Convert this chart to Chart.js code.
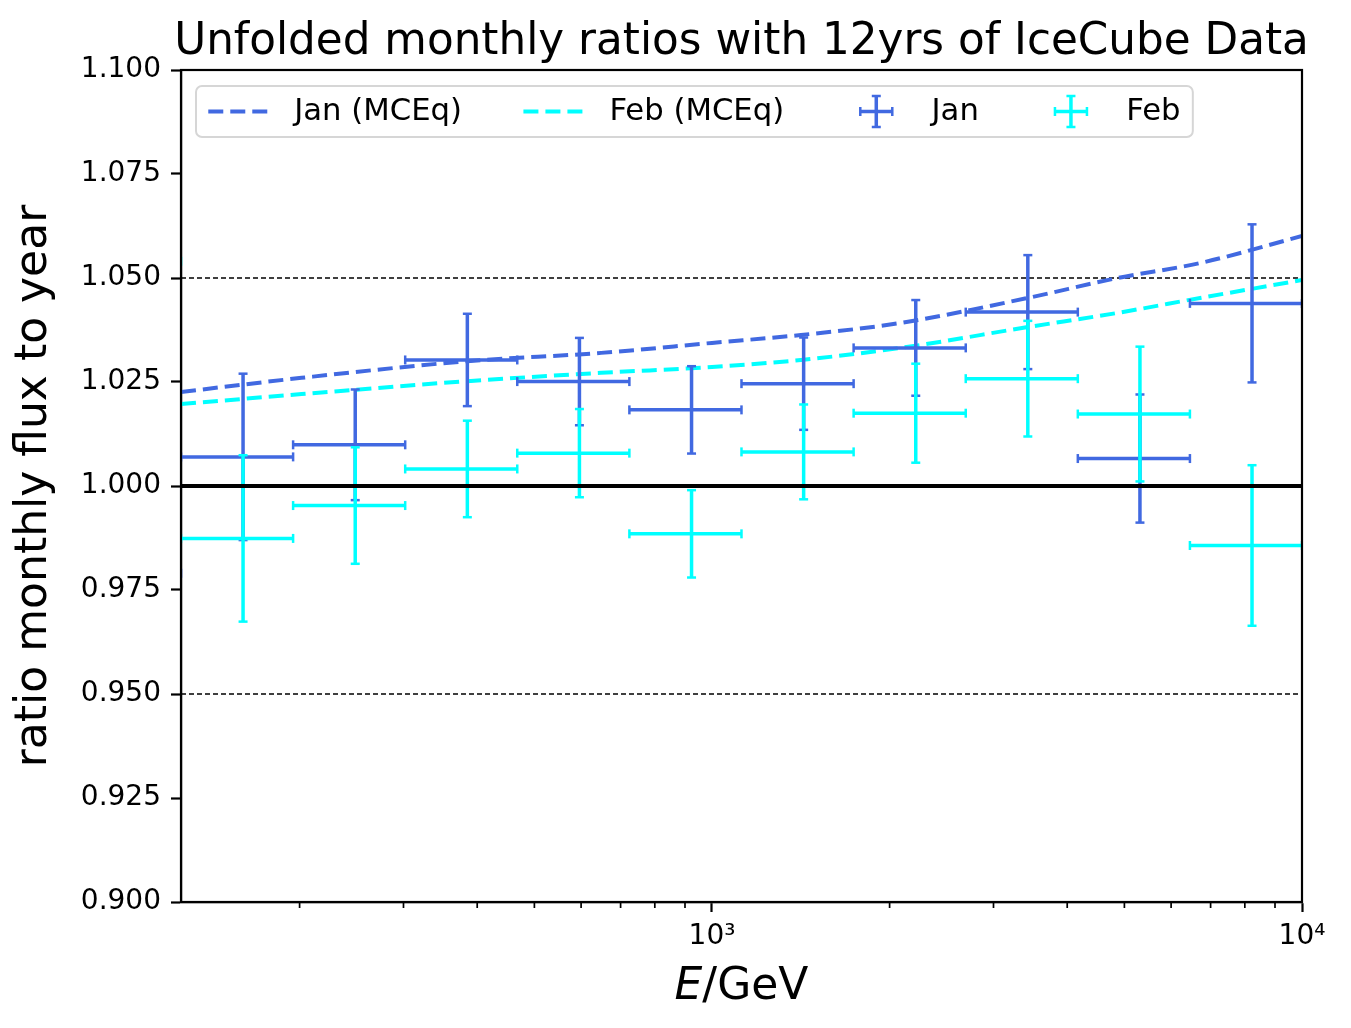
<!DOCTYPE html>
<html>
<head>
<meta charset="utf-8">
<script src="https://cdn.jsdelivr.net/npm/chart.js@4.4.1/dist/chart.umd.min.js"></script>
<style>
  html, body { margin: 0; padding: 0; background: #fff; }
</style>
</head>
<body>
<canvas id="chart" width="1351" height="1028"></canvas>
<script>
// energy bins in GeV (edges + centre of each bin)
const binLo = [81.3, 125.9, 195.0, 302.0, 467.7, 724.4, 1122, 1738, 2692, 4169, 6457];
const binHi = [125.9, 195.0, 302.0, 467.7, 724.4, 1122, 1738, 2692, 4169, 6457, 10000];
const binMid = [103.6, 160.4, 248.5, 384.9, 596.1, 923.3, 1430, 2215, 3430, 5313, 8228];

// unfolded ratios monthly / yearly
const janRatio = [0.979, 1.0070, 1.0099, 1.0303, 1.0251, 1.0183, 1.0246, 1.0332, 1.0418, 1.0066, 1.0439];
const janErr   = [0.020, 0.0200, 0.0133, 0.0111, 0.0105, 0.0105, 0.0111, 0.0115, 0.0137, 0.0154, 0.0190];
const febRatio = [1.054, 0.9874, 0.9953, 1.0041, 1.0079, 0.9885, 1.0082, 1.0175, 1.0258, 1.0173, 0.9857];
const febErr   = [0.020, 0.0200, 0.0140, 0.0116, 0.0106, 0.0105, 0.0114, 0.0119, 0.0139, 0.0162, 0.0193];

// MCEq predictions
const mceqE   = [125.9, 201.6, 385, 649, 1000, 1415, 2089, 3430, 4864, 6720, 10000];
const janMCEq = [1.0226, 1.0260, 1.0300, 1.0320, 1.0344, 1.0363, 1.0392, 1.0452, 1.0500, 1.0536, 1.0601];
const febMCEq = [1.0197, 1.0221, 1.0252, 1.0272, 1.0286, 1.0303, 1.0332, 1.0382, 1.0416, 1.0452, 1.0495];

// axes
const xMin = 125.9, xMax = 10000;
const xMajor = [1000, 10000];
const xMajorLabels = ['10\u00B3', '10\u2074'];
const xMinor = [200, 300, 400, 500, 600, 700, 800, 900, 2000, 3000, 4000, 5000, 6000, 7000, 8000, 9000];
const refLines = [0.95, 1.05];

const titleText = 'Unfolded monthly ratios with 12yrs of IceCube Data';

const JAN = '#4169e1';
const FEB = '#00ffff';

function hBars(vals) {
  const pts = [];
  vals.forEach((v, i) => {
    pts.push({x: binLo[i], y: v}, {x: binHi[i], y: v}, {x: binHi[i], y: null});
  });
  return pts;
}

function vBars(vals, errs) {
  const pts = [];
  vals.forEach((v, i) => {
    pts.push({x: binMid[i], y: v - errs[i]}, {x: binMid[i], y: v + errs[i]}, {x: binMid[i], y: null});
  });
  return pts;
}

function barSet(data, color, rot, order) {
  return {
    data: data, showLine: true, spanGaps: false,
    borderColor: color, borderWidth: 3.5,
    pointStyle: 'line', pointRadius: 4.5, pointHoverRadius: 4.5,
    pointRotation: rot, pointBorderColor: color, pointBorderWidth: 2.5,
    clip: 0, order: order
  };
}

const datasets = [];
refLines.forEach(v => {
  datasets.push({
    data: [{x: xMin, y: v}, {x: xMax, y: v}], showLine: true,
    borderColor: '#000', borderWidth: 1.3, borderDash: [5, 3],
    pointRadius: 0, order: 9
  });
});
datasets.push({
  data: mceqE.map((e, i) => ({x: e, y: janMCEq[i]})), showLine: true,
  borderColor: JAN, borderWidth: 4, borderDash: [15, 7], cubicInterpolationMode: 'monotone',
  pointRadius: 0, order: 8
});
datasets.push({
  data: mceqE.map((e, i) => ({x: e, y: febMCEq[i]})), showLine: true,
  borderColor: FEB, borderWidth: 4, borderDash: [15, 7], cubicInterpolationMode: 'monotone',
  pointRadius: 0, order: 7
});
datasets.push(barSet(hBars(janRatio), JAN, 90, 6));
datasets.push(barSet(vBars(janRatio, janErr), JAN, 0, 5));
datasets.push(barSet(hBars(febRatio), FEB, 90, 4));
datasets.push(barSet(vBars(febRatio, febErr), FEB, 0, 3));
datasets.push({
  data: [{x: xMin, y: 1}, {x: xMax, y: 1}], showLine: true,
  borderColor: '#000', borderWidth: 4, pointRadius: 0, order: 1
});

const legendItems = [
  {label: 'Jan (MCEq)', kind: 'dash', color: JAN},
  {label: 'Feb (MCEq)', kind: 'dash', color: FEB},
  {label: 'Jan', kind: 'err', color: JAN},
  {label: 'Feb', kind: 'err', color: FEB}
];

const extras = {
  id: 'extras',
  afterDraw(chart) {
    const {ctx, chartArea: ca, scales: {x}} = chart;
    const midX = (ca.left + ca.right) / 2;
    ctx.save();
    ctx.strokeStyle = '#000';
    // minor x ticks
    ctx.lineWidth = 1.7;
    xMinor.forEach(v => {
      const px = x.getPixelForValue(v);
      ctx.beginPath(); ctx.moveTo(px, ca.bottom); ctx.lineTo(px, ca.bottom + 6); ctx.stroke();
    });
    // frame
    ctx.lineWidth = 2.2;
    ctx.strokeRect(ca.left, ca.top, ca.right - ca.left, ca.bottom - ca.top);

    // title, centred over the axes
    ctx.fillStyle = '#000';
    ctx.textBaseline = 'alphabetic';
    ctx.textAlign = 'center';
    ctx.font = '43.7px "DejaVu Sans"';
    ctx.fillText(titleText, midX, ca.top - 16);

    // x label, italic E
    ctx.font = 'italic 44px "DejaVu Sans"';
    const wE = ctx.measureText('E').width;
    ctx.font = '44px "DejaVu Sans"';
    const wR = ctx.measureText('/GeV').width;
    const x0 = midX - (wE + wR) / 2;
    ctx.textAlign = 'left';
    ctx.font = 'italic 44px "DejaVu Sans"';
    ctx.fillText('E', x0, 999);
    ctx.font = '44px "DejaVu Sans"';
    ctx.fillText('/GeV', x0 + wE, 999);

    // legend
    const fs = 30.7;
    ctx.font = fs + 'px "DejaVu Sans"';
    const widths = legendItems.map(it => ctx.measureText(it.label).width);
    const pad = 0.4 * fs, hl = 2 * fs, htp = 0.8 * fs, cs = 2 * fs;
    const lx = ca.left + 15, ly = ca.top + 16;
    const lw = pad * 2 + legendItems.length * (hl + htp) + widths.reduce((a, b) => a + b, 0) + (legendItems.length - 1) * cs;
    const lh = 51;
    ctx.beginPath();
    ctx.roundRect(lx, ly, lw, lh, 6);
    ctx.fillStyle = 'rgba(255,255,255,0.8)';
    ctx.fill();
    ctx.strokeStyle = '#d6d6d6';
    ctx.lineWidth = 2;
    ctx.stroke();
    let cx = lx + pad;
    const cy = ly + lh / 2;
    legendItems.forEach((it, i) => {
      ctx.strokeStyle = it.color;
      if (it.kind === 'dash') {
        ctx.lineWidth = 4;
        ctx.setLineDash([15, 7]);
        ctx.beginPath(); ctx.moveTo(cx, cy); ctx.lineTo(cx + hl, cy); ctx.stroke();
        ctx.setLineDash([]);
      } else {
        const mx = cx + hl / 2;
        ctx.lineWidth = 3.5;
        ctx.beginPath();
        ctx.moveTo(mx - 16, cy); ctx.lineTo(mx + 16, cy);
        ctx.moveTo(mx, cy - 15.5); ctx.lineTo(mx, cy + 15.5);
        ctx.stroke();
        ctx.lineWidth = 2.5;
        ctx.beginPath();
        ctx.moveTo(mx - 16, cy - 4.5); ctx.lineTo(mx - 16, cy + 4.5);
        ctx.moveTo(mx + 16, cy - 4.5); ctx.lineTo(mx + 16, cy + 4.5);
        ctx.moveTo(mx - 4.5, cy - 15.5); ctx.lineTo(mx + 4.5, cy - 15.5);
        ctx.moveTo(mx - 4.5, cy + 15.5); ctx.lineTo(mx + 4.5, cy + 15.5);
        ctx.stroke();
      }
      ctx.fillStyle = '#000';
      ctx.textBaseline = 'middle';
      ctx.fillText(it.label, cx + hl + htp, cy + 1);
      cx += hl + htp + widths[i] + cs;
    });
    ctx.restore();
  }
};

Chart.defaults.font.family = '"DejaVu Sans"';
Chart.defaults.color = '#000';

new Chart(document.getElementById('chart').getContext('2d'), {
  type: 'scatter',
  data: {datasets: datasets},
  options: {
    responsive: false,
    animation: false,
    devicePixelRatio: 1,
    layout: {padding: {left: 0, right: 49, top: 70, bottom: 0}},
    plugins: {
      legend: {display: false},
      tooltip: {enabled: false},
      title: {display: false}
    },
    scales: {
      x: {
        type: 'logarithmic',
        min: xMin, max: xMax,
        afterBuildTicks: axis => { axis.ticks = xMajor.map(v => ({value: v})); },
        afterFit: axis => { axis.height = 126; },
        ticks: {
          autoSkip: false, maxRotation: 0, padding: 8,
          font: {size: 28},
          callback: v => { const k = xMajor.indexOf(v); return k >= 0 ? xMajorLabels[k] : ''; }
        },
        grid: {drawOnChartArea: false, drawTicks: true, tickLength: 10, tickWidth: 2.2, tickColor: '#000'},
        border: {color: '#000', width: 2.2}
      },
      y: {
        min: 0.9, max: 1.1,
        afterFit: axis => { axis.width = 181; },
        ticks: {
          stepSize: 0.025, padding: 10,
          font: {size: 28},
          callback: v => v.toFixed(3)
        },
        grid: {drawOnChartArea: false, drawTicks: true, tickLength: 10, tickWidth: 2.2, tickColor: '#000'},
        border: {color: '#000', width: 2.2},
        title: {
          display: true,
          text: 'ratio monthly flux to year',
          font: {size: 44},
          padding: {top: 8, bottom: 0}
        }
      }
    }
  },
  plugins: [extras]
});
</script>
</body>
</html>
